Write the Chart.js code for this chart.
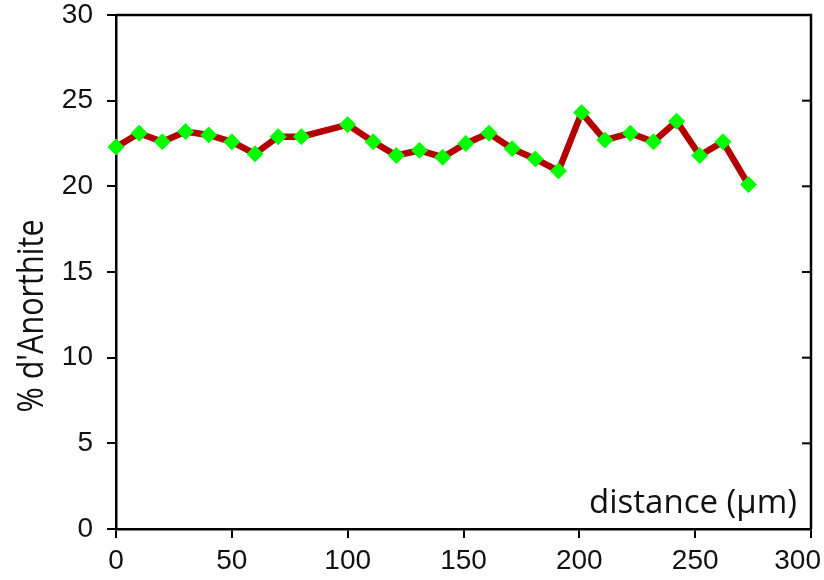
<!DOCTYPE html>
<html>
<head>
<meta charset="utf-8">
<script src="https://cdn.jsdelivr.net/npm/chart.js@4"></script>
<style>
  html, body { margin: 0; padding: 0; background: #fff; overflow: hidden; }
  #wrap { width: 824px; height: 580px; }
</style>
</head>
<body>
<div id="wrap"><canvas id="anChart" width="824" height="580"></canvas></div>
<script>
// valeurs
const distances = [0, 10, 20, 30, 40, 50, 60, 70, 80, 100, 111, 121, 131, 141, 151, 161, 171, 181, 191, 201, 211, 222, 232, 242, 252, 262, 273];
const anorthite = [22.3, 23.1, 22.6, 23.2, 23.0, 22.6, 21.9, 22.9, 22.9, 23.6, 22.6, 21.8, 22.1, 21.7, 22.5, 23.1, 22.2, 21.6, 20.9, 24.3, 22.7, 23.1, 22.6, 23.8, 21.8, 22.6, 20.1];
const xTicks = [0, 50, 100, 150, 200, 250, 300];
const yTicks = [0, 5, 10, 15, 20, 25, 30];
const xTitle = 'distance (µm)';
const yTitle = "% d'Anorthite";

const TICK_FONT = { family: '"Liberation Sans Narrow", "Liberation Sans", sans-serif', size: 28 };
const TICK_LEN = 9;
const TICK_PAD = 6;

// cadre haut/droite, graduations intérieures à droite, titres
const framePlugin = {
    id: 'frame',
    afterDraw(chart) {
        const { ctx, chartArea: a, scales } = chart;
        ctx.save();
        ctx.strokeStyle = '#000';
        ctx.lineWidth = 2.5;
        ctx.beginPath();
        ctx.moveTo(a.left, a.top);
        ctx.lineTo(a.right, a.top);
        ctx.lineTo(a.right, a.bottom);
        ctx.stroke();

        ctx.lineWidth = 2;
        yTicks.forEach(v => {
            const y = scales.y.getPixelForValue(v);
            ctx.beginPath();
            ctx.moveTo(a.right, y);
            ctx.lineTo(a.right - TICK_LEN, y);
            ctx.stroke();
        });

        // dernier label de l'axe x, calé contre le bord
        const last = xTicks[xTicks.length - 1];
        ctx.fillStyle = '#111';
        ctx.font = TICK_FONT.size + 'px ' + TICK_FONT.family;
        ctx.textAlign = 'right';
        ctx.textBaseline = 'middle';
        ctx.fillText(String(last), chart.width - 3, a.bottom + TICK_LEN + TICK_PAD + TICK_FONT.size * 0.6);

        // titre x dans la zone du graphe
        ctx.font = '33px "Open Sans", sans-serif';
        ctx.textAlign = 'right';
        ctx.textBaseline = 'alphabetic';
        ctx.fillText(xTitle, a.right - 14, a.bottom - 16);

        // titre y vertical
        ctx.font = '36px "Open Sans", sans-serif';
        ctx.translate(43, (a.top + a.bottom) / 2 + 44);
        ctx.rotate(-Math.PI / 2);
        ctx.scale(0.85, 1);
        ctx.textAlign = 'center';
        ctx.fillText(yTitle, 0, 0);
        ctx.restore();
    }
};

const ctx = document.getElementById('anChart').getContext('2d');
new Chart(ctx, {
    type: 'scatter',
    data: {
        datasets: [{
            data: distances.map((d, i) => ({ x: d, y: anorthite[i] })),
            showLine: true,
            borderColor: '#b30000',
            borderWidth: 6.5,
            tension: 0,
            pointStyle: 'rectRot',
            pointRadius: 8,
            pointBorderWidth: 1,
            pointBackgroundColor: '#00ff00',
            pointBorderColor: '#00ff00',
            clip: false
        }]
    },
    options: {
        responsive: false,
        animation: false,
        devicePixelRatio: 1,
        layout: { padding: { top: 15, right: 13, bottom: 0, left: 0 } },
        plugins: { legend: { display: false }, tooltip: { enabled: false } },
        scales: {
            x: {
                type: 'linear',
                min: 0, max: 300,
                afterBuildTicks: s => { s.ticks = xTicks.map(v => ({ value: v })); },
                afterFit: s => { s.height = 51; s.paddingLeft = 0; s.paddingRight = 0; },
                ticks: {
                    color: '#111',
                    font: TICK_FONT,
                    padding: TICK_PAD,
                    maxRotation: 0,
                    autoSkip: false,
                    callback: v => v === xTicks[xTicks.length - 1] ? '' : String(v)
                },
                grid: { drawOnChartArea: false, color: '#000', lineWidth: 2, tickLength: TICK_LEN },
                border: { color: '#000', width: 2.5 }
            },
            y: {
                type: 'linear',
                min: 0, max: 30,
                afterBuildTicks: s => { s.ticks = yTicks.map(v => ({ value: v })); },
                afterFit: s => { s.width = 116; s.paddingTop = 0; s.paddingBottom = 0; },
                ticks: {
                    color: '#111',
                    font: TICK_FONT,
                    padding: 14,
                    autoSkip: false
                },
                grid: { drawOnChartArea: false, color: '#000', lineWidth: 2, tickLength: TICK_LEN },
                border: { color: '#000', width: 2.5 }
            }
        }
    },
    plugins: [framePlugin]
});
</script>
</body>
</html>
